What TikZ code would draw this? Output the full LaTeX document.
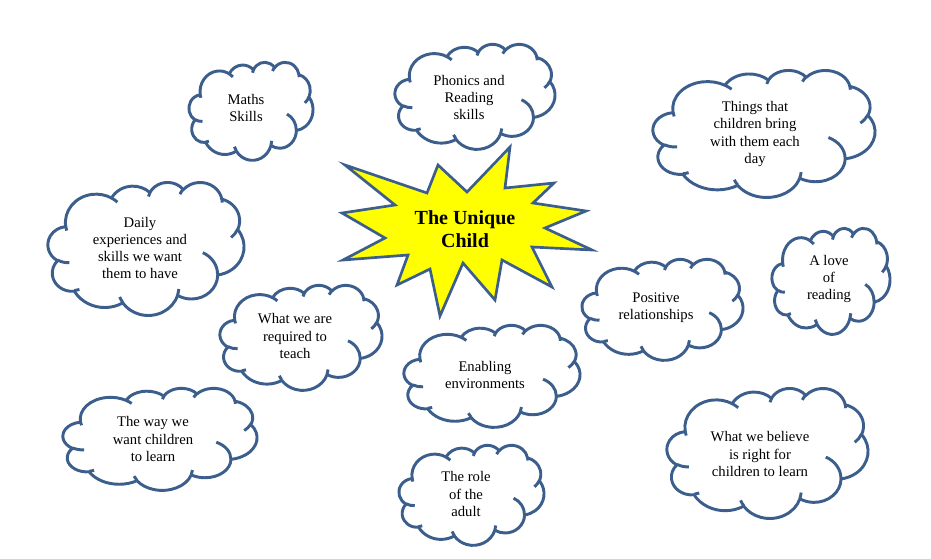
\documentclass[tikz,border=0pt]{standalone}
\usepackage{fontspec}
\setmainfont{Liberation Serif}
\definecolor{cblue}{HTML}{3B5E8C}
\definecolor{staryellow}{HTML}{FFFF00}
\tikzset{
  cloudline/.style={draw=cblue, line width=2.2pt, line join=round},
  starline/.style={draw=cblue, line width=2pt, line join=miter, fill=staryellow},
  ctext/.style={align=center, inner sep=0pt, font=\fontsize{11}{12.9}\selectfont},
  ttext/.style={align=center, inner sep=0pt, font=\bfseries\fontsize{15}{17.25}\selectfont}
}
% convert a visual-angle elliptic arc into parametric start/delta angles
\newcommand\convarc[5]{%
  \pgfmathsetmacro\cvtmpt{atan2((#4)*sin(#2), (#5)*cos(#2))}%
  \pgfmathsetmacro\cvtmpe{atan2((#4)*sin((#2)+(#3)), (#5)*cos((#2)+(#3)))}%
  \pgfmathsetmacro\cvtmpd{\cvtmpe-\cvtmpt}%
  \ifdim #3pt>0pt
    \ifdim \cvtmpd pt<0pt \pgfmathsetmacro\cvtmpd{\cvtmpd+360}\fi
  \else
    \ifdim \cvtmpd pt>0pt \pgfmathsetmacro\cvtmpd{\cvtmpd-360}\fi
  \fi
  \expandafter\xdef\csname ca#1t\endcsname{\cvtmpt}%
  \expandafter\xdef\csname ca#1d\endcsname{\cvtmpd}%
}
\convarc{oA}{-190.4875}{123.7805}{6.753}{9.190}
\convarc{oB}{-144.1024}{89.9452}{5.333}{7.267}
\convarc{oC}{-145.8079}{99.7230}{4.365}{5.945}
\convarc{oD}{-130.9861}{117.2417}{4.857}{6.595}
\convarc{oE}{-78.7089}{109.0269}{5.333}{7.273}
\convarc{oF}{-46.2673}{130.2690}{6.775}{9.220}
\convarc{oG}{0.6250}{114.0333}{5.785}{7.867}
\convarc{oH}{22.4516}{115.1726}{6.752}{9.215}
\convarc{oI}{66.2426}{75.7110}{7.720}{10.543}
\convarc{oJ}{-274.9421}{146.7356}{4.360}{5.918}
\convarc{oK}{-246.8285}{152.5189}{4.345}{5.945}
\convarc{iA}{86.7420}{26.4295}{4.345}{5.945}
\convarc{iB}{73.6105}{11.4475}{4.360}{5.918}
\convarc{iC}{137.6242}{14.0811}{6.752}{9.215}
\convarc{iD}{6.4533}{15.9984}{6.752}{9.215}
\convarc{iE}{-70.2924}{70.9174}{5.785}{7.867}
\convarc{iF}{30.3180}{27.7515}{5.333}{7.273}
\convarc{iG}{-13.7443}{14.8589}{4.857}{6.595}
\convarc{iH}{-149.1815}{18.1954}{4.857}{6.595}
\convarc{iI}{-163.4943}{17.6864}{4.365}{5.945}
\convarc{iJ}{-66.7070}{12.3194}{6.753}{9.190}
\convarc{iK}{157.6544}{11.8582}{6.753}{9.190}
\newcommand\drawcloud[4]{%
 \pgfmathsetmacro\cldsx{(#3-#1)*0.75/43.2}%
 \pgfmathsetmacro\cldsy{(#4-#2)*0.75/43.2}%
 \begin{scope}[shift={(#1,#2)}, x=\cldsx pt, y=-\cldsy pt]
   \filldraw[cloudline, fill=white] (3.900,14.370)
     arc[start angle=\caoAt, delta angle=\caoAd, x radius=6.753, y radius=9.190]
     arc[start angle=\caoBt, delta angle=\caoBd, x radius=5.333, y radius=7.267]
     arc[start angle=\caoCt, delta angle=\caoCd, x radius=4.365, y radius=5.945]
     arc[start angle=\caoDt, delta angle=\caoDd, x radius=4.857, y radius=6.595]
     arc[start angle=\caoEt, delta angle=\caoEd, x radius=5.333, y radius=7.273]
     arc[start angle=\caoFt, delta angle=\caoFd, x radius=6.775, y radius=9.220]
     arc[start angle=\caoGt, delta angle=\caoGd, x radius=5.785, y radius=7.867]
     arc[start angle=\caoHt, delta angle=\caoHd, x radius=6.752, y radius=9.215]
     arc[start angle=\caoIt, delta angle=\caoId, x radius=7.720, y radius=10.543]
     arc[start angle=\caoJt, delta angle=\caoJd, x radius=4.360, y radius=5.918]
     arc[start angle=\caoKt, delta angle=\caoKd, x radius=4.345, y radius=5.945]
     -- cycle;
   \draw[cloudline]
     (4.693,26.177) arc[start angle=\caiAt, delta angle=\caiAd, x radius=4.345, y radius=5.945]
     (6.928,34.899) arc[start angle=\caiBt, delta angle=\caiBd, x radius=4.360, y radius=5.918]
     (16.478,39.090) arc[start angle=\caiCt, delta angle=\caiCd, x radius=6.752, y radius=9.215]
     (28.827,34.751) arc[start angle=\caiDt, delta angle=\caiDd, x radius=6.752, y radius=9.215]
     (34.129,22.954) arc[start angle=\caiEt, delta angle=\caiEd, x radius=5.785, y radius=7.867]
     (41.798,15.354) arc[start angle=\caiFt, delta angle=\caiFd, x radius=5.333, y radius=7.273]
     (38.324,5.426) arc[start angle=\caiGt, delta angle=\caiGd, x radius=4.857, y radius=6.595]
     (29.078,3.952) arc[start angle=\caiHt, delta angle=\caiHd, x radius=4.857, y radius=6.595]
     (22.141,4.720) arc[start angle=\caiIt, delta angle=\caiId, x radius=4.365, y radius=5.945]
     (14.000,5.192) arc[start angle=\caiJt, delta angle=\caiJd, x radius=6.753, y radius=9.190]
     (4.127,15.789) arc[start angle=\caiKt, delta angle=\caiKd, x radius=6.753, y radius=9.190];
 \end{scope}}
\begin{document}
\begin{tikzpicture}[x=0.75pt,y=-0.75pt]
\useasboundingbox (0,0) rectangle (931,558);
\fill[white] (0,0) rectangle (931,558);
% clouds
\drawcloud{189}{62}{313}{160}
\drawcloud{395}{44}{555}{149}
\drawcloud{653}{70}{875}{197}
\drawcloud{48}{182}{244}{315}
\drawcloud{220}{285}{382}{390}
\drawcloud{582}{259}{743}{360}
\drawcloud{772}{228}{890}{334}
\drawcloud{404}{325}{580}{427}
\drawcloud{63}{388}{257}{490}
\drawcloud{399}{445}{544}{545}
\drawcloud{667}{388}{868}{518}
% star
\draw[starline] (345,165) -- (427,193) -- (438,165) -- (467,192) -- (510,147) -- (505,188) -- (554,183) -- (533,203) -- (586,211) -- (545,228) -- (592,250) -- (532,247) -- (552,287) -- (502,260) -- (495,300) -- (463,263) -- (440,316) -- (430,269) -- (397,285) -- (408,255) -- (343,260) -- (385,238) -- (342,213) -- (395,205) -- cycle;
\node[ttext] (uc) at (465,229) {The Unique\\Child};
% texts
\node[ctext] (maths) at (246,108) {Maths\\Skills};
\node[ctext] (phon) at (469,97.5) {Phonics and\\Reading\\skills};
\node[ctext] (things) at (755,134) {Things that\\children bring\\with them each\\day};
\node[ctext] (daily) at (140,248) {Daily\\experiences and\\skills we want\\them to have};
\node[ctext] (req) at (295,336) {What we are\\required to\\teach};
\node[ctext] (pos) at (656,308) {Positive\\relationships};
\node[ctext] (love) at (829,279) {A love\\of\\reading};
\node[ctext] (env) at (485,375) {Enabling\\environments};
\node[ctext] (way) at (153,439) {The way we\\want children\\to learn};
\node[ctext] (role) at (466,494) {The role\\of the\\adult};
\node[ctext] (bel) at (760,454) {What we believe\\is right for\\children to learn};
\end{tikzpicture}
\end{document}
